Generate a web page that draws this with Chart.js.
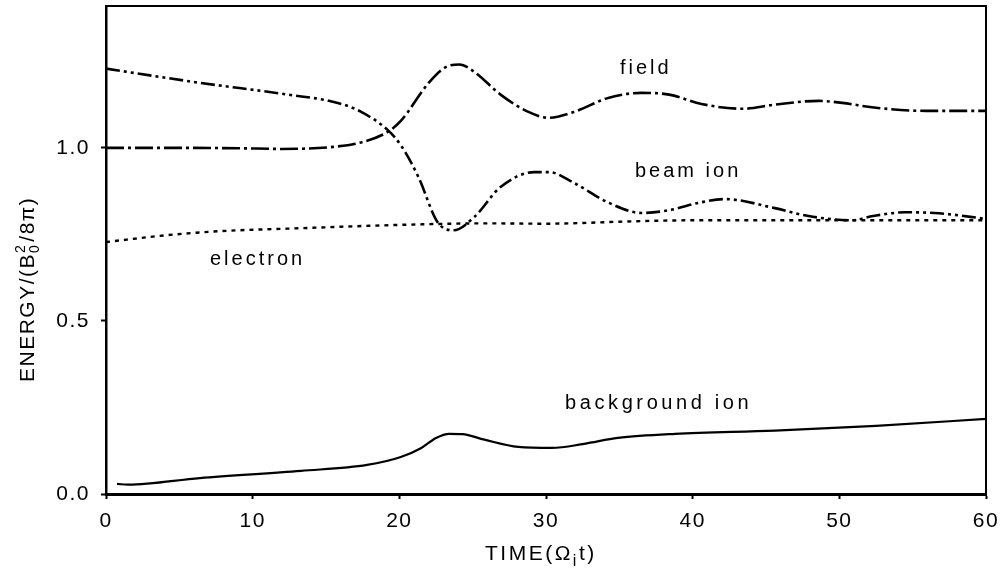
<!DOCTYPE html>
<html>
<head>
<meta charset="utf-8">
<title>Energy vs time</title>
<script src="https://cdn.jsdelivr.net/npm/chart.js@4/dist/chart.umd.min.js"></script>
<style>
  html, body { margin: 0; padding: 0; background: #fff; }
  #wrap { width: 1000px; height: 575px; }
</style>
</head>
<body>
<div id="wrap"><canvas id="chart" width="1000" height="575"></canvas></div>
<script>
// Energy curves (time in Omega_i t, energy in B0^2/8pi)
const fieldT = [0, 5, 9, 12, 15.5, 17.5, 19.2, 20.1, 22, 23.1, 24.1, 25.1, 26.9, 28.8, 30.2, 31.9, 34.3, 36.5, 38.4, 40.6, 43.4, 45.6, 48.6, 50.2, 52.5, 55.9, 60];
const fieldE = [1.0, 1.0, 0.999, 0.997, 1.003, 1.017, 1.046, 1.078, 1.188, 1.232, 1.241, 1.22, 1.154, 1.104, 1.087, 1.104, 1.145, 1.159, 1.154, 1.127, 1.113, 1.125, 1.136, 1.13, 1.116, 1.107, 1.107];

const beamT = [0, 6.4, 12.4, 15.8, 17.4, 19.2, 20.1, 21.3, 22.6, 23.7, 25.1, 26.9, 29.2, 30.2, 31.9, 34.3, 36.5, 38.4, 40.6, 42.2, 45.6, 47.9, 50.9, 52.3, 54.5, 56.8, 60];
const beamE = [1.229, 1.188, 1.154, 1.13, 1.104, 1.052, 1.008, 0.916, 0.786, 0.762, 0.8, 0.887, 0.93, 0.93, 0.899, 0.841, 0.812, 0.82, 0.843, 0.852, 0.826, 0.803, 0.791, 0.803, 0.814, 0.811, 0.795];

const electronT = [0, 4.2, 7.6, 13.3, 18, 22.4, 26, 30, 32.4, 36, 40.6, 50, 60];
const electronE = [0.728, 0.748, 0.759, 0.768, 0.775, 0.78, 0.782, 0.781, 0.783, 0.788, 0.791, 0.791, 0.791];

const bgT = [0.75, 1.5, 6.4, 13.3, 17.8, 20.1, 21.5, 22.5, 23.4, 24.3, 25.8, 28.1, 30.4, 32.6, 34.9, 38.8, 45.6, 52.5, 60];
const bgE = [0.029, 0.027, 0.046, 0.067, 0.084, 0.107, 0.133, 0.162, 0.174, 0.173, 0.157, 0.136, 0.133, 0.145, 0.162, 0.174, 0.183, 0.197, 0.217];

const xTicks = [0, 10, 20, 30, 40, 50, 60];
const yTicks = [0, 0.5, 1.0];

const FONT = '"Liberation Sans", Arial, Helvetica, sans-serif';

function pairs(ts, es) {
  return ts.map((t, i) => ({ x: t, y: es[i] }));
}

function curve(label, ts, es, dash, width) {
  return {
    label,
    data: pairs(ts, es),
    showLine: true,
    borderColor: '#000',
    borderWidth: width,
    borderDash: dash,
    pointRadius: 0,
    fill: false,
    cubicInterpolationMode: 'monotone'
  };
}

// the scales should not push the plot area in for half-labels
function noPad(s) {
  s.paddingTop = 0;
  s.paddingBottom = 0;
  s.paddingLeft = 0;
  s.paddingRight = 0;
}

// draws segments of text; each piece may be shifted up/down and smaller
function drawRich(ctx, pieces, x, y) {
  let cx = x;
  pieces.forEach(p => {
    ctx.font = p.size + 'px ' + FONT;
    if (p.stack) {
      // superscript and subscript sharing the same x
      let w = 0;
      p.stack.forEach(s => {
        ctx.fillText(s.text, cx, y + s.dy);
        w = Math.max(w, ctx.measureText(s.text).width);
      });
      cx += w + 2;
    } else {
      ctx.fillText(p.text, cx, y + (p.dy || 0));
      cx += ctx.measureText(p.text).width;
    }
  });
}

const decorations = {
  id: 'decorations',
  beforeDraw(chart) {
    chart.ctx.letterSpacing = '1.5px';
  },
  afterDraw(chart) {
    const ctx = chart.ctx;
    const a = chart.chartArea;
    ctx.save();
    ctx.strokeStyle = '#000';
    ctx.lineWidth = 2;
    ctx.beginPath();
    ctx.moveTo(a.left, a.top);
    ctx.lineTo(a.right, a.top);
    ctx.lineTo(a.right, a.bottom);
    ctx.stroke();

    ctx.fillStyle = '#000';
    ctx.textAlign = 'left';
    ctx.textBaseline = 'alphabetic';

    // curve labels
    ctx.letterSpacing = '3px';
    ctx.font = '20px ' + FONT;
    ctx.fillText('field', 620, 74);
    ctx.fillText('beam ion', 635, 177);
    ctx.fillText('electron', 210, 265);
    ctx.letterSpacing = '3.6px';
    ctx.fillText('background ion', 565, 409);

    // x axis title
    ctx.letterSpacing = '2.5px';
    drawRich(ctx, [
      { text: 'TIME(\u03A9', size: 21 },
      { text: 'i', size: 16, dy: 6 },
      { text: 't)', size: 21 }
    ], 485, 560);

    // y axis title, rotated
    ctx.letterSpacing = '1.5px';
    ctx.translate(34, 382);
    ctx.rotate(-Math.PI / 2);
    drawRich(ctx, [
      { text: 'ENERGY/(B', size: 21 },
      { stack: [{ text: '2', dy: -9 }, { text: '0', dy: 5 }], size: 14 },
      { text: '/8\u03C0)', size: 21 }
    ], 0, 0);
    ctx.restore();
  }
};

const ctx = document.getElementById('chart').getContext('2d');
const chart = new Chart(ctx, {
  type: 'scatter',
  data: {
    datasets: [
      curve('field', fieldT, fieldE, [18, 4, 3, 4], 2.6),
      curve('beam ion', beamT, beamE, [14, 4, 3, 4, 3, 4], 2.6),
      curve('electron', electronT, electronE, [4, 5], 2.4),
      curve('background ion', bgT, bgE, [], 2.2)
    ]
  },
  options: {
    responsive: false,
    devicePixelRatio: 1,
    animation: false,
    layout: { padding: { top: 6, right: 14, left: 0, bottom: 0 } },
    plugins: {
      legend: { display: false },
      tooltip: { enabled: false }
    },
    scales: {
      x: {
        type: 'linear',
        min: 0,
        max: 60,
        afterBuildTicks: s => { s.ticks = xTicks.map(v => ({ value: v })); },
        afterFit: s => { s.height = 81; noPad(s); },
        ticks: {
          color: '#000',
          font: { family: FONT, size: 21 },
          padding: 10,
          maxRotation: 0,
          callback: v => String(v)
        },
        grid: { drawOnChartArea: false, drawTicks: true, tickLength: 5, tickWidth: 2, color: '#000' },
        border: { display: true, color: '#000', width: 3 }
      },
      y: {
        min: 0,
        max: 1.41,
        afterBuildTicks: s => { s.ticks = yTicks.map(v => ({ value: v })); },
        afterFit: s => { s.width = 106; noPad(s); },
        ticks: {
          color: '#000',
          font: { family: FONT, size: 21 },
          padding: 11,
          callback: v => v.toFixed(1)
        },
        grid: { drawOnChartArea: false, drawTicks: true, tickLength: 5, tickWidth: 2, color: '#000' },
        border: { display: true, color: '#000', width: 2.5 }
      }
    }
  },
  plugins: [decorations]
});
</script>
</body>
</html>
